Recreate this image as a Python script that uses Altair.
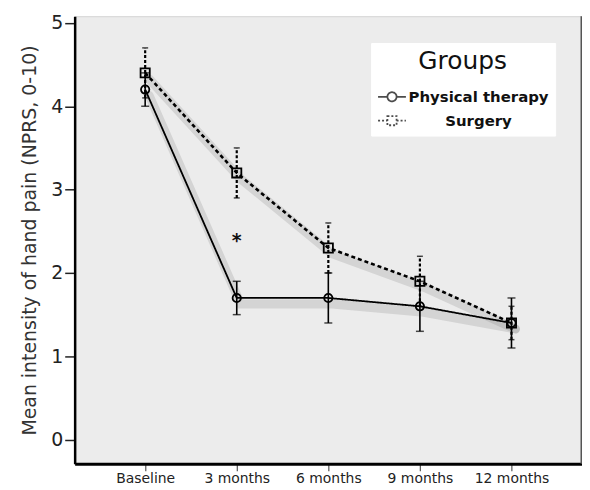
import altair as alt
import pandas as pd

# ---- data ----
times = ["Baseline", "3 months", "6 months", "9 months", "12 months"]
groups = ["Physical therapy", "Surgery"]

pt_mean = [4.2, 1.7, 1.7, 1.6, 1.4]
pt_lo = [4.0, 1.5, 1.4, 1.3, 1.1]
pt_hi = [4.4, 1.9, 2.0, 1.9, 1.7]

sg_mean = [4.4, 3.2, 2.3, 1.9, 1.4]
sg_lo = [4.1, 2.9, 2.0, 1.6, 1.2]
sg_hi = [4.7, 3.5, 2.6, 2.2, 1.6]

star_time = ["3 months"]
star_value = [2.43]

y_ticks = [0, 1, 2, 3, 4, 5]

rows = []
for g, m, lo, hi in [(groups[0], pt_mean, pt_lo, pt_hi), (groups[1], sg_mean, sg_lo, sg_hi)]:
    for t, a, b, c in zip(times, m, lo, hi):
        rows.append({"time": t, "group": g, "mean": a, "lo": b, "hi": c})
df = pd.DataFrame(rows)
star_df = pd.DataFrame({"time": star_time, "value": star_value, "label": ["*"]})

W, H = 510, 450
FONT = "DejaVu Sans"

x_enc = alt.X(
    "time:O",
    sort=times,
    scale=alt.Scale(type="point", domain=times, padding=0.77),
    axis=alt.Axis(
        title=None, labelAngle=0, labelFontSize=14, labelColor="#222",
        labelFont=FONT, tickColor="#555", tickSize=7, tickWidth=1.2,
        domainColor="#000", domainWidth=3, labelPadding=1,
    ),
)
y_scale = alt.Scale(domain=[-0.29, 5.08], nice=False, zero=False)
y_axis = alt.Axis(
    title="Mean intensity of hand pain (NPRS, 0-10)",
    values=y_ticks, grid=False, labelFontSize=19, labelColor="#222",
    labelFont=FONT, titleFont=FONT, titleFontSize=19, titleFontWeight="normal",
    titleColor="#333", tickColor="#222", tickSize=10, tickWidth=1.5,
    domainColor="#000", domainWidth=2.5, labelPadding=2, titlePadding=11,
)

base = alt.Chart(df)

style = {
    groups[0]: dict(dash=[1, 0], width=1.8, shape="circle", size=70, bar_dash=[1, 0], bar_w=1.6, cap=8),
    groups[1]: dict(dash=[4, 3], width=2.6, shape="square", size=85, bar_dash=[3, 2], bar_w=2.2, cap=6),
}

layers = []
# soft shadows under lines
for g in groups:
    layers.append(
        base.transform_filter(alt.datum.group == g)
        .mark_line(color="#555", opacity=0.16, strokeWidth=9, xOffset=4, yOffset=6, strokeCap="round")
        .encode(x=x_enc, y=alt.Y("mean:Q", scale=y_scale, axis=y_axis))
    )

for g in groups:
    s = style[g]
    sub = base.transform_filter(alt.datum.group == g)
    layers.append(
        sub.mark_line(color="black", strokeWidth=s["width"], strokeDash=s["dash"])
        .encode(x=x_enc, y=alt.Y("mean:Q", scale=y_scale, axis=y_axis))
    )
    layers.append(
        sub.mark_rule(color="black", strokeWidth=s["bar_w"], strokeDash=s["bar_dash"])
        .encode(x=x_enc, y=alt.Y("lo:Q", scale=y_scale, axis=y_axis), y2="hi:Q")
    )
    for f in ["lo", "hi"]:
        layers.append(
            sub.mark_tick(color="black", size=s["cap"], thickness=1.5)
            .encode(x=x_enc, y=alt.Y(f + ":Q", scale=y_scale, axis=y_axis))
        )
    layers.append(
        sub.mark_point(shape=s["shape"], size=s["size"], filled=False, color="black",
                       strokeWidth=1.8, opacity=1)
        .encode(x=x_enc, y=alt.Y("mean:Q", scale=y_scale, axis=y_axis))
    )

# significance marker
layers.append(
    alt.Chart(star_df).mark_text(fontSize=19, font=FONT, fontWeight="bold", color="#111", dy=4)
    .encode(x=x_enc, y=alt.Y("value:Q", scale=y_scale, axis=y_axis), text="label:N")
)

# legend driver (no marks drawn; only builds the legend)
p_circle = "M-1,0H-0.33M0.33,0H1M-0.33,0A0.33,0.33 0 1,1 0.33,0A0.33,0.33 0 1,1 -0.33,0Z"
p_square = "M-1,0H-0.33M0.33,0H1M-0.33,-0.33H0.33V0.33H-0.33Z"
layers.append(
    base.transform_filter("false")
    .mark_point(filled=False, color="black")
    .encode(
        shape=alt.Shape("group:N", scale=alt.Scale(domain=groups, range=[p_circle, p_square]),
                        legend=alt.Legend(title="Groups")),
        strokeDash=alt.StrokeDash("group:N", scale=alt.Scale(domain=groups, range=[[1, 0], [2, 2]]),
                                  legend=alt.Legend(title="Groups")),
    )
)

# right frame edge
edge_df = pd.DataFrame({"k": [0]})
layers.append(
    alt.Chart(edge_df).mark_rule(color="#555", strokeWidth=3)
    .encode(x=alt.value(W), y=alt.value(0), y2=alt.value(H))
)

chart = (
    alt.layer(*layers)
    .properties(width=W, height=H, autosize=alt.AutoSizeParams(type="none"),
                padding={"left": 67, "top": 7, "right": 0, "bottom": 20},
                view=alt.ViewBackground(fill="#ececec", stroke="#d4d4d4", strokeWidth=1))
    .configure_legend(
        orient="none", legendX=298, legendY=27, fillColor="white", padding=6,
        titleFontSize=25, titleFontWeight="normal", titleFont=FONT, titleColor="#111",
        titleAnchor="middle", titlePadding=8,
        labelFontSize=15, labelFontWeight="bold", labelFont=FONT, labelColor="#111",
        labelAlign="center", labelOffset=72,
        symbolSize=784, symbolStrokeWidth=1.8, symbolStrokeColor="black",
        symbolFillColor="transparent", rowPadding=0,
        strokeColor="white",
    )
)

chart.save("out.html", embed_options={"renderer": "svg", "actions": False})
